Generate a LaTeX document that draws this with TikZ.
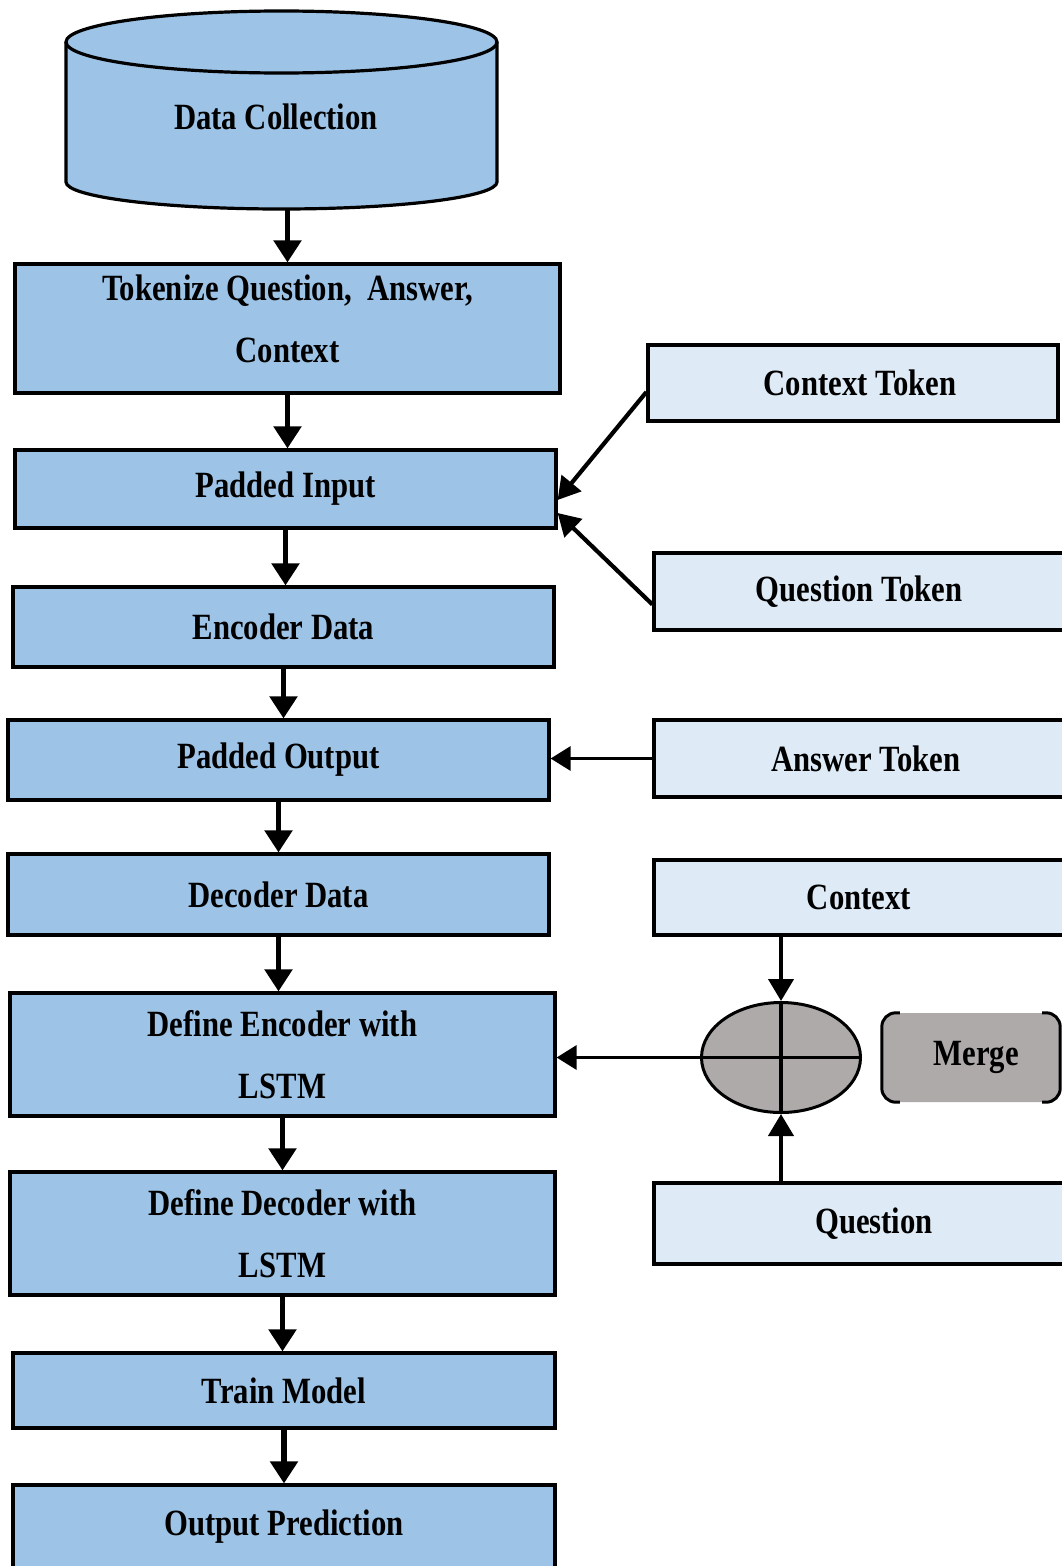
\documentclass[tikz,border=0pt]{standalone}
\usepackage{fontspec}
\setmainfont{Liberation Serif}[FakeStretch=0.83]
\usetikzlibrary{arrows.meta,shapes.geometric}
\definecolor{mainblue}{HTML}{9DC3E6}
\definecolor{lightblue}{HTML}{DEEBF7}
\definecolor{mgray}{HTML}{AEAAAA}
\begin{document}
\begin{tikzpicture}[x=1pt,y=-1pt,
  txt/.style={font=\fontsize{37}{62}\selectfont\bfseries, align=center},
  mainbox/.style={draw, line width=3.2pt, fill=mainblue, txt, inner sep=0pt},
  sidebox/.style={draw, line width=3.2pt, fill=lightblue, txt, inner sep=0pt},
  arr/.style={line width=5.2pt, -{Triangle[length=22pt,width=27pt]}},
  sarr/.style={line width=4.2pt, -{Triangle[length=22pt,width=25pt]}},
  harr/.style={line width=3.2pt, -{Triangle[length=20pt,width=24pt]}}]
\useasboundingbox (0,0) rectangle (1061,1566);
\fill[white] (0,0) rectangle (1061,1566);

% cylinder
\fill[mainblue] (66,42) -- (66,182) arc[start angle=180,end angle=0,x radius=215.5,y radius=27]
  -- (497,42) arc[start angle=0,end angle=-180,x radius=215.5,y radius=31] -- cycle;
\draw[line width=3.2pt] (66,42) -- (66,182) arc[start angle=180,end angle=0,x radius=215.5,y radius=27] -- (497,42);
\draw[line width=3.2pt] (281.5,42) ellipse[x radius=215.5,y radius=31];
\node[txt, minimum width=431, minimum height=184, inner sep=0pt] (dc) at (276,117) {Data Collection};

% main column
\node[mainbox, minimum width=545, minimum height=129] (tok) at (287.5,328.5) {\raisebox{9pt}[\height][\depth]{\begin{tabular}{@{}c@{}}Tokenize Question,~ Answer,\\[0pt]Context\end{tabular}}};
\node[mainbox, minimum width=541, minimum height=78] (pin) at (285.5,489) {Padded Input};
\node[mainbox, minimum width=541, minimum height=80] (enc) at (283.5,627) {Encoder Data};
\node[mainbox, minimum width=541, minimum height=80] (pout) at (278.5,760) {Padded Output};
\node[mainbox, minimum width=541, minimum height=81] (dec) at (278.5,894.5) {Decoder Data};
\node[mainbox, minimum width=545, minimum height=123] (den) at (282.5,1054.5) {Define Encoder with\\LSTM};
\node[mainbox, minimum width=545, minimum height=123] (dde) at (282.5,1233.5) {Define Decoder with\\LSTM};
\node[mainbox, minimum width=542, minimum height=75] (trn) at (284,1390.5) {Train Model};
\node[mainbox, minimum width=542, minimum height=83] (outp) at (284,1526.5) {Output Prediction};

% side column
\node[sidebox, minimum width=410, minimum height=76] (ctok) at (853,383) {\hspace*{14pt}Context Token};
\node[sidebox, minimum width=410, minimum height=77] (qtok) at (859,591.5) {Question Token};
\node[sidebox, minimum width=410, minimum height=77] (atok) at (859,758.5) {\hspace*{14pt}Answer Token};
\node[sidebox, minimum width=410, minimum height=75] (ctx) at (859,897.5) {Context};
\node[sidebox, minimum width=410, minimum height=81] (qst) at (859,1223.5) {\hspace*{30pt}Question};

% merge
\node[draw, line width=3pt, ellipse, fill=mgray, minimum width=159, minimum height=110, inner sep=0pt] (e) at (781,1057.5) {};
\draw[line width=3.2pt] (e.north) -- (e.south);
\draw[line width=3.2pt] (e.west) -- (e.east);
\node[txt, fill=mgray, rounded corners=14pt, minimum width=178, minimum height=89, inner sep=0pt] (mg) at (971,1057.5) {\hspace*{10pt}Merge};
\draw[line width=3pt, rounded corners=14pt] ([xshift=18pt]mg.north west) -- (mg.north west) -- (mg.south west) -- ([xshift=18pt]mg.south west);
\draw[line width=3pt, rounded corners=14pt] ([xshift=-18pt]mg.north east) -- (mg.north east) -- (mg.south east) -- ([xshift=-18pt]mg.south east);

% vertical arrows
\draw[arr] (dc.south -| tok.north) -- (tok.north);
\draw[arr] (tok.south) -- (tok.south |- pin.north);
\draw[arr] (pin.south) -- (pin.south |- enc.north);
\draw[arr] (enc.south) -- (enc.south |- pout.north);
\draw[arr] (pout.south) -- (pout.south |- dec.north);
\draw[arr] (dec.south) -- (dec.south |- den.north);
\draw[arr] (den.south) -- (den.south |- dde.north);
\draw[arr] (dde.south) -- (dde.south |- trn.north);
\draw[arr] (trn.south) -- (trn.south |- outp.north);

% side arrows
\draw[sarr] ([yshift=-9pt]ctok.west) -- ([yshift=-11pt]pin.east);
\draw[sarr] ([yshift=-13pt]qtok.west) -- ([yshift=-24pt]pin.east);
\draw[harr] (atok.west) -- (atok.west -| pout.east);
\draw[sarr] (ctx.south -| e.north) -- (e.north);
\draw[sarr] (qst.north -| e.south) -- (e.south);
\draw[harr] (e.west) -- (e.west -| den.east);
\end{tikzpicture}
\end{document}
